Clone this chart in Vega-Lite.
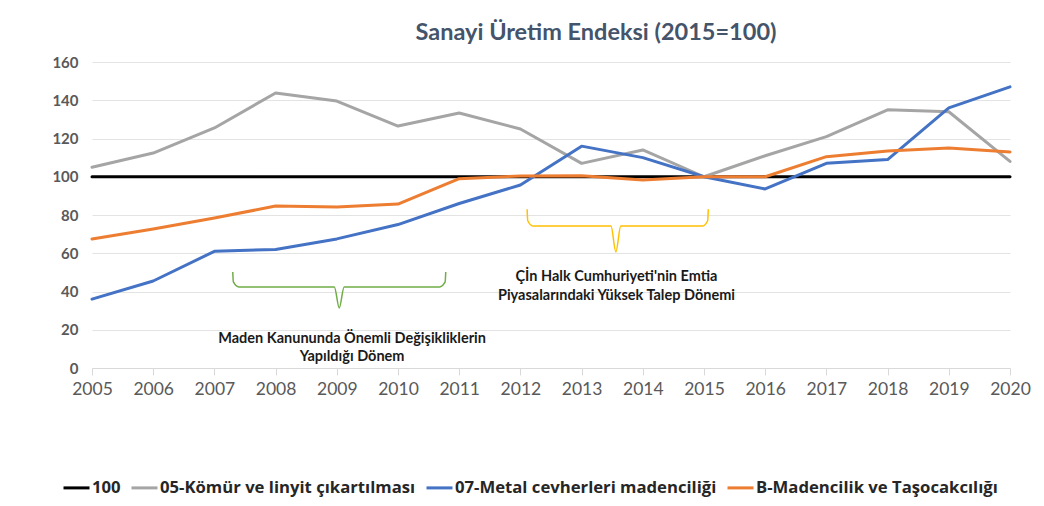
{
  "$schema": "https://vega.github.io/schema/vega-lite/v6.json",
  "width": 918,
  "height": 306,
  "autosize": {"type": "none"},
  "padding": {"left": 92, "top": 62, "right": 34, "bottom": 138},
  "background": "white",
  "config": {
    "view": {"stroke": null},
    "font": "Lato"
  },
  "title": {
    "text": "Sanayi Üretim Endeksi (2015=100)",
    "font": "Lato",
    "fontSize": 23.5,
    "fontWeight": "bold",
    "color": "#44546A",
    "anchor": "middle",
    "dx": 45,
    "offset": 11
  },
  "datasets": {
    "series": [
      {"year": 2005, "series": "100", "value": 100},
      {"year": 2006, "series": "100", "value": 100},
      {"year": 2007, "series": "100", "value": 100},
      {"year": 2008, "series": "100", "value": 100},
      {"year": 2009, "series": "100", "value": 100},
      {"year": 2010, "series": "100", "value": 100},
      {"year": 2011, "series": "100", "value": 100},
      {"year": 2012, "series": "100", "value": 100},
      {"year": 2013, "series": "100", "value": 100},
      {"year": 2014, "series": "100", "value": 100},
      {"year": 2015, "series": "100", "value": 100},
      {"year": 2016, "series": "100", "value": 100},
      {"year": 2017, "series": "100", "value": 100},
      {"year": 2018, "series": "100", "value": 100},
      {"year": 2019, "series": "100", "value": 100},
      {"year": 2020, "series": "100", "value": 100},
      {"year": 2005, "series": "05-Kömür ve linyit çıkartılması", "value": 105},
      {"year": 2006, "series": "05-Kömür ve linyit çıkartılması", "value": 112.4},
      {"year": 2007, "series": "05-Kömür ve linyit çıkartılması", "value": 125.5},
      {"year": 2008, "series": "05-Kömür ve linyit çıkartılması", "value": 143.8},
      {"year": 2009, "series": "05-Kömür ve linyit çıkartılması", "value": 139.6},
      {"year": 2010, "series": "05-Kömür ve linyit çıkartılması", "value": 126.5},
      {"year": 2011, "series": "05-Kömür ve linyit çıkartılması", "value": 133.3},
      {"year": 2012, "series": "05-Kömür ve linyit çıkartılması", "value": 125},
      {"year": 2013, "series": "05-Kömür ve linyit çıkartılması", "value": 107},
      {"year": 2014, "series": "05-Kömür ve linyit çıkartılması", "value": 114},
      {"year": 2015, "series": "05-Kömür ve linyit çıkartılması", "value": 100},
      {"year": 2016, "series": "05-Kömür ve linyit çıkartılması", "value": 111},
      {"year": 2017, "series": "05-Kömür ve linyit çıkartılması", "value": 121},
      {"year": 2018, "series": "05-Kömür ve linyit çıkartılması", "value": 135},
      {"year": 2019, "series": "05-Kömür ve linyit çıkartılması", "value": 134},
      {"year": 2020, "series": "05-Kömür ve linyit çıkartılması", "value": 108},
      {"year": 2005, "series": "07-Metal cevherleri madenciliği", "value": 36},
      {"year": 2006, "series": "07-Metal cevherleri madenciliği", "value": 45.5},
      {"year": 2007, "series": "07-Metal cevherleri madenciliği", "value": 61},
      {"year": 2008, "series": "07-Metal cevherleri madenciliği", "value": 62},
      {"year": 2009, "series": "07-Metal cevherleri madenciliği", "value": 67.5},
      {"year": 2010, "series": "07-Metal cevherleri madenciliği", "value": 75},
      {"year": 2011, "series": "07-Metal cevherleri madenciliği", "value": 86},
      {"year": 2012, "series": "07-Metal cevherleri madenciliği", "value": 95.7},
      {"year": 2013, "series": "07-Metal cevherleri madenciliği", "value": 116},
      {"year": 2014, "series": "07-Metal cevherleri madenciliği", "value": 110},
      {"year": 2015, "series": "07-Metal cevherleri madenciliği", "value": 100},
      {"year": 2016, "series": "07-Metal cevherleri madenciliği", "value": 93.6},
      {"year": 2017, "series": "07-Metal cevherleri madenciliği", "value": 107},
      {"year": 2018, "series": "07-Metal cevherleri madenciliği", "value": 109},
      {"year": 2019, "series": "07-Metal cevherleri madenciliği", "value": 136},
      {"year": 2020, "series": "07-Metal cevherleri madenciliği", "value": 147},
      {"year": 2005, "series": "B-Madencilik ve Taşocakcılığı", "value": 67.5},
      {"year": 2006, "series": "B-Madencilik ve Taşocakcılığı", "value": 72.7},
      {"year": 2007, "series": "B-Madencilik ve Taşocakcılığı", "value": 78.4},
      {"year": 2008, "series": "B-Madencilik ve Taşocakcılığı", "value": 84.7},
      {"year": 2009, "series": "B-Madencilik ve Taşocakcılığı", "value": 84.2},
      {"year": 2010, "series": "B-Madencilik ve Taşocakcılığı", "value": 85.7},
      {"year": 2011, "series": "B-Madencilik ve Taşocakcılığı", "value": 99},
      {"year": 2012, "series": "B-Madencilik ve Taşocakcılığı", "value": 100.4},
      {"year": 2013, "series": "B-Madencilik ve Taşocakcılığı", "value": 100.5},
      {"year": 2014, "series": "B-Madencilik ve Taşocakcılığı", "value": 98.3},
      {"year": 2015, "series": "B-Madencilik ve Taşocakcılığı", "value": 100},
      {"year": 2016, "series": "B-Madencilik ve Taşocakcılığı", "value": 100},
      {"year": 2017, "series": "B-Madencilik ve Taşocakcılığı", "value": 110.5},
      {"year": 2018, "series": "B-Madencilik ve Taşocakcılığı", "value": 113.5},
      {"year": 2019, "series": "B-Madencilik ve Taşocakcılığı", "value": 115},
      {"year": 2020, "series": "B-Madencilik ve Taşocakcılığı", "value": 113}
    ],
    "greenBrace": [
      {"i": 1, "year": 2007.30, "value": 50.2},
      {"i": 2, "year": 2007.31, "value": 45},
      {"i": 3, "year": 2007.40, "value": 42.4},
      {"i": 4, "year": 2008.96, "value": 42.4},
      {"i": 5, "year": 2009.04, "value": 31.4},
      {"i": 6, "year": 2009.12, "value": 42.4},
      {"i": 7, "year": 2010.68, "value": 42.4},
      {"i": 8, "year": 2010.77, "value": 45},
      {"i": 9, "year": 2010.78, "value": 50.2}
    ],
    "yellowBrace": [
      {"i": 1, "year": 2012.11, "value": 83},
      {"i": 2, "year": 2012.12, "value": 77},
      {"i": 3, "year": 2012.21, "value": 74.2},
      {"i": 4, "year": 2013.48, "value": 74.2},
      {"i": 5, "year": 2013.56, "value": 60.7},
      {"i": 6, "year": 2013.64, "value": 74.2},
      {"i": 7, "year": 2014.97, "value": 74.2},
      {"i": 8, "year": 2015.06, "value": 77},
      {"i": 9, "year": 2015.07, "value": 83}
    ],
    "notes": [
      {"year": 2009.25, "value": 15, "text": "Maden Kanununda  Önemli Değişikliklerin"},
      {"year": 2009.25, "value": 5.6, "text": "Yapıldığı Dönem"},
      {"year": 2013.57, "value": 47.4, "text": "Çİn Halk Cumhuriyeti'nin Emtia"},
      {"year": 2013.57, "value": 37.6, "text": "Piyasalarındaki Yüksek Talep Dönemi"}
    ]
  },
  "encoding": {
    "x": {
      "field": "year",
      "type": "quantitative",
      "scale": {"domain": [2005, 2020], "nice": false, "zero": false},
      "axis": {
        "title": null,
        "values": [2005, 2006, 2007, 2008, 2009, 2010, 2011, 2012, 2013, 2014, 2015, 2016, 2017, 2018, 2019, 2020],
        "tickCount": 20,
        "format": "d",
        "grid": false,
        "domainColor": "#D9D9D9",
        "tickColor": "#D9D9D9",
        "tickSize": 7,
        "labelFontSize": 17.5,
        "labelColor": "#595959",
        "labelPadding": 5,
        "labelFont": "Lato",
        "labelFlush": false,
        "labelOverlap": false,
        "labelBound": false
      }
    },
    "y": {
      "field": "value",
      "type": "quantitative",
      "scale": {"domain": [0, 160], "nice": false},
      "axis": {
        "title": null,
        "values": [0, 20, 40, 60, 80, 100, 120, 140, 160],
        "tickCount": 12,
        "domain": false,
        "ticks": false,
        "gridColor": "#E3E3E3",
        "gridWidth": 1,
        "labelFontSize": 15,
        "labelFontWeight": "bold",
        "labelColor": "#595959",
        "labelPadding": 14,
        "labelFont": "Lato",
        "labelOverlap": false,
        "labelFlush": false,
        "labelBound": false
      }
    }
  },
  "layer": [
    {
      "data": {"name": "series"},
      "mark": {"type": "line", "strokeWidth": 3, "strokeCap": "round", "strokeJoin": "round"},
      "encoding": {
        "color": {
          "field": "series",
          "type": "nominal",
          "scale": {
            "domain": ["100", "05-Kömür ve linyit çıkartılması", "07-Metal cevherleri madenciliği", "B-Madencilik ve Taşocakcılığı"],
            "range": ["#000000", "#A5A5A5", "#4472C4", "#ED7D31"]
          },
          "legend": {
            "title": null,
            "orient": "none",
            "direction": "horizontal",
            "legendX": -30,
            "legendY": 411,
            "symbolType": "stroke",
            "symbolSize": 676,
            "symbolStrokeWidth": 3,
            "labelFontSize": 16.7,
            "labelFontWeight": "bold",
            "labelColor": "#262626",
            "labelFont": "Open Sans",
            "columnPadding": 4,
            "labelOffset": 1,
            "labelLimit": 400
          }
        }
      }
    },
    {
      "data": {"name": "greenBrace"},
      "mark": {"type": "line", "color": "#70AD47", "strokeWidth": 1.5, "interpolate": "monotone"},
      "encoding": {
        "order": {"field": "i", "type": "quantitative"}
      }
    },
    {
      "data": {"name": "yellowBrace"},
      "mark": {"type": "line", "color": "#FFC000", "strokeWidth": 1.5, "interpolate": "monotone"},
      "encoding": {
        "order": {"field": "i", "type": "quantitative"}
      }
    },
    {
      "data": {"name": "notes"},
      "mark": {"type": "text", "font": "Lato", "fontSize": 14.5, "fontWeight": "bold", "color": "#1A1A1A", "align": "center", "baseline": "middle"},
      "encoding": {
        "text": {"field": "text", "type": "nominal"}
      }
    }
  ]
}
